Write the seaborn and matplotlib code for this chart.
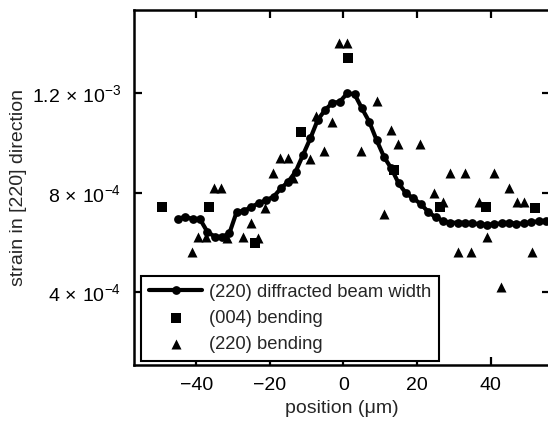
import numpy as np
import pandas as pd
import matplotlib
matplotlib.use("Agg")
import matplotlib.pyplot as plt
from matplotlib.ticker import FixedLocator, FixedFormatter
import seaborn as sns

# (220) diffracted beam width, every 2 um
beam_pos = list(range(-45, 56, 2))
beam_strain = [6.95e-4, 7.04e-4, 6.95e-4, 6.95e-4, 6.44e-4, 6.24e-4, 6.23e-4, 6.37e-4,
               7.24e-4, 7.27e-4, 7.44e-4, 7.58e-4, 7.71e-4, 7.84e-4, 8.18e-4, 8.45e-4,
               8.85e-4, 9.52e-4, 1.019e-3, 1.093e-3, 1.133e-3, 1.162e-3, 1.166e-3, 1.2e-3,
               1.197e-3, 1.14e-3, 1.086e-3, 1.012e-3, 9.45e-4, 8.98e-4, 8.38e-4, 7.98e-4,
               7.78e-4, 7.55e-4, 7.24e-4, 7.02e-4, 6.88e-4, 6.80e-4, 6.80e-4, 6.80e-4,
               6.78e-4, 6.74e-4, 6.72e-4, 6.74e-4, 6.78e-4, 6.80e-4, 6.76e-4, 6.77e-4,
               6.82e-4, 6.86e-4, 6.88e-4]

# (004) bending
b004_pos = [-49.2, -36.6, -24.0, -11.6, 1.1, 13.6, 26.1, 38.7, 52.0]
b004_strain = [7.44e-4, 7.44e-4, 5.99e-4, 1.043e-3, 1.341e-3, 8.92e-4, 7.44e-4, 7.44e-4, 7.40e-4]

# (220) bending
b220_pos = [-41.2, -39.4, -37.3, -35.3, -33.3, -31.7, -27.2, -25.2, -23.3, -21.3,
            -19.2, -17.2, -15.2, -13.6, -9.2, -7.4, -5.2, -3.2, -1.1, 0.9,
            4.8, 9.1, 10.9, 13.0, 14.9, 20.8, 24.7, 26.9, 29.0, 31.0,
            32.9, 34.7, 36.9, 39.0, 41.0, 42.9, 45.0, 47.1, 49.1, 51.2]
b220_strain = [5.61e-4, 6.21e-4, 6.21e-4, 8.18e-4, 8.18e-4, 6.17e-4, 6.21e-4, 6.80e-4, 6.17e-4, 7.38e-4,
               8.78e-4, 9.39e-4, 9.39e-4, 8.58e-4, 9.35e-4, 1.11e-3, 9.68e-4, 1.086e-3, 1.403e-3, 1.403e-3,
               9.68e-4, 1.170e-3, 7.14e-4, 1.052e-3, 9.95e-4, 9.95e-4, 7.98e-4, 7.64e-4, 8.78e-4, 5.61e-4,
               8.78e-4, 5.61e-4, 7.64e-4, 6.21e-4, 8.78e-4, 4.20e-4, 8.18e-4, 7.64e-4, 7.64e-4, 5.61e-4]

ytick_vals = [4e-4, 8e-4, 1.2e-3]
ytick_text = [r"$4\,\times\,10^{-4}$", r"$8\,\times\,10^{-4}$", r"$1.2\,\times\,10^{-3}$"]
xtick_vals = [-40, -20, 0, 20, 40]

sns.set_style("ticks")
plt.rcParams["font.family"] = ["Liberation Sans", "DejaVu Sans"]
plt.rcParams["mathtext.fontset"] = "custom"
plt.rcParams["mathtext.rm"] = "Liberation Sans"
plt.rcParams["mathtext.it"] = "Liberation Sans:italic"
plt.rcParams["mathtext.bf"] = "Liberation Sans:bold"

fig = plt.figure(figsize=(5.48, 4.24), dpi=100)
ax = fig.add_axes([134 / 548, 59 / 424, 416 / 548, 355 / 424])

beam = pd.DataFrame({"pos": beam_pos, "strain": beam_strain})
s004 = pd.DataFrame({"pos": b004_pos, "strain": b004_strain})
s220 = pd.DataFrame({"pos": b220_pos, "strain": b220_strain})

sns.lineplot(data=beam, x="pos", y="strain", ax=ax, color="black", linewidth=3,
             marker="o", markersize=6.3, markeredgewidth=0,
             label="(220) diffracted beam width")
sns.scatterplot(data=s004, x="pos", y="strain", ax=ax, color="black", marker="s",
                s=44, linewidth=0, label="(004) bending")
sns.scatterplot(data=s220, x="pos", y="strain", ax=ax, color="black", marker="^",
                s=52, linewidth=0, label="(220) bending")

ax.set_xlim(-56.9, 56.1)
ax.set_ylim(1.08e-4, 1.535e-3)
ax.xaxis.set_major_locator(FixedLocator(xtick_vals))
ax.yaxis.set_major_locator(FixedLocator(ytick_vals))
ax.yaxis.set_major_formatter(FixedFormatter(ytick_text))

for sp in ax.spines.values():
    sp.set_linewidth(1.8)
    sp.set_color("black")
ax.tick_params(direction="in", length=6, width=1.6, top=True, right=True,
               labelsize=14, colors="black", pad=9)

ax.set_xlabel("position (μm)", fontsize=14, labelpad=4)
ax.set_ylabel("strain in [220] direction", fontsize=14, labelpad=4)

leg = ax.legend(loc="lower left", bbox_to_anchor=(0.018, 0.012), borderaxespad=0,
                fontsize=13.2, handlelength=2.9, handletextpad=0.35, labelspacing=0.5,
                scatterpoints=1, frameon=True, fancybox=False, borderpad=0.42)
leg.get_frame().set_edgecolor("black")
leg.get_frame().set_linewidth(1.5)
leg.get_frame().set_alpha(1)

fig.savefig("out.png", dpi=100)
